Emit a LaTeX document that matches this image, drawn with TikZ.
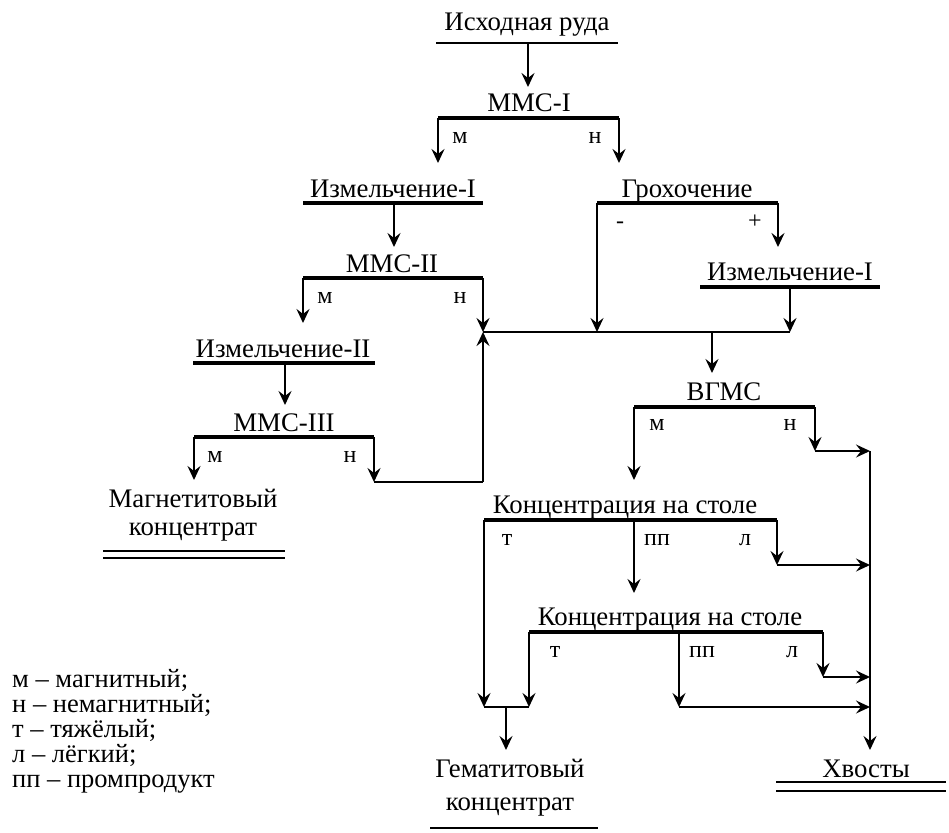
\documentclass[tikz,border=0pt]{standalone}
\usepackage{fontspec}
\setmainfont{Liberation Serif}
\usetikzlibrary{arrows.meta}
\begin{document}
\begin{tikzpicture}[x=1pt,y=-1pt,
  big/.style={font=\fontsize{26.8}{30}\selectfont, inner sep=0pt, anchor=base},
  small/.style={font=\fontsize{24}{27}\selectfont, inner sep=0pt, anchor=base},
  leg/.style={font=\fontsize{26.5}{29}\selectfont, inner sep=0pt, anchor=base west},
  bar/.style={line width=3.2pt},
  uline/.style={line width=1.5pt},
  flow/.style={line width=2.2pt, -{Stealth[length=14pt,width=13pt,inset=5pt]}},
  thinflow/.style={line width=1.5pt, -{Stealth[length=14pt,width=13pt,inset=5pt]}},
  thinline/.style={line width=1.5pt},
]
\useasboundingbox (0,0) rectangle (949,832);

% ---------- top ----------
\node[big] (ore) at (527,31) {Исходная руда};
\coordinate (oreL) at (436,43); \coordinate (oreR) at (618,43);
\draw[uline] (oreL) -- (oreR);
\coordinate (oreO) at (528,43);
\node[big] (mms1) at (529,112) {ММС-I};
\coordinate (mms1in) at (528,87);
\draw[flow] (oreO) -- (mms1in);
\coordinate (m1L) at (438,118); \coordinate (m1R) at (619,118);
\draw[bar] (m1L) -- (m1R);
\coordinate (m1Lo) at (438,163); \coordinate (m1Ro) at (619,163);
\draw[flow] (m1L) -- (m1Lo);
\draw[flow] (m1R) -- (m1Ro);
\node[small] (m1m) at (460,143) {м};
\node[small] (m1n) at (595,143) {н};

% ---------- left branch ----------
\node[big] (izm1) at (393,197) {Измельчение-I};
\coordinate (i1L) at (303,203); \coordinate (i1R) at (483,203);
\draw[bar] (i1L) -- (i1R);
\coordinate (i1o) at (394,203); \coordinate (mms2in) at (394,247);
\draw[flow] (i1o) -- (mms2in);
\node[big] (mms2) at (392,272) {ММС-II};
\coordinate (m2L) at (303,278); \coordinate (m2R) at (483,278);
\draw[bar] (m2L) -- (m2R);
\coordinate (m2Lo) at (303,323); \coordinate (col1) at (483,332);
\draw[flow] (m2L) -- (m2Lo);
\draw[flow] (m2R) -- (col1);
\node[small] (m2m) at (325,303) {м};
\node[small] (m2n) at (460,303) {н};

\node[big] (izm2) at (283,357) {Измельчение-II};
\coordinate (i2L) at (193,363); \coordinate (i2R) at (375,363);
\draw[bar] (i2L) -- (i2R);
\coordinate (i2o) at (285,363); \coordinate (mms3in) at (285,405);
\draw[flow] (i2o) -- (mms3in);
\node[big] (mms3) at (284,431) {ММС-III};
\coordinate (m3L) at (194,437); \coordinate (m3R) at (374,437);
\draw[bar] (m3L) -- (m3R);
\coordinate (m3Lo) at (194,480); \coordinate (m3Ro) at (374,482);
\draw[flow] (m3L) -- (m3Lo);
\draw[flow] (m3R) -- (m3Ro);
\node[small] (m3m) at (215,462) {м};
\node[small] (m3n) at (350,462) {н};
\coordinate (ret) at (483,482);
\draw[line width=2.2pt] (m3Ro) -- (ret);
\draw[flow] (ret) -- (col1);

\node[big] (mag1) at (193,507) {Магнетитовый};
\node[big] (mag2) at (193,535) {концентрат};
\coordinate (magA) at (103,551); \coordinate (magB) at (285,551);
\coordinate (magC) at (103,558); \coordinate (magD) at (285,558);
\draw[uline] (magA) -- (magB);
\draw[uline] (magC) -- (magD);

% ---------- right branch ----------
\node[big] (grox) at (687,197) {Грохочение};
\coordinate (gL) at (597,203); \coordinate (gR) at (778,203);
\draw[bar] (gL) -- (gR);
\coordinate (col2) at (597,332); \coordinate (gRo) at (778,247);
\draw[flow] (gL) -- (col2);
\draw[flow] (gR) -- (gRo);
\node[small] (gminus) at (620,228) {-};
\node[small] (gplus) at (755,228) {+};

\node[big] (izm1r) at (790,280) {Измельчение-I};
\coordinate (irL) at (700,287); \coordinate (irR) at (880,287);
\draw[bar] (irL) -- (irR);
\coordinate (iro) at (790,287); \coordinate (col3) at (790,332);
\draw[flow] (iro) -- (col3);

\draw[thinline] (col1) -- (col3);
\coordinate (colo) at (712,332); \coordinate (vgin) at (712,373);
\draw[flow] (colo) -- (vgin);

\node[big] (vgms) at (724,400) {ВГМС};
\coordinate (vL) at (634,407); \coordinate (vR) at (815,407);
\draw[bar] (vL) -- (vR);
\coordinate (vLo) at (634,480); \coordinate (vRo) at (815,451);
\draw[flow] (vL) -- (vLo);
\draw[flow] (vR) -- (vRo);
\node[small] (vm) at (657,430) {м};
\node[small] (vn) at (790,430) {н};
\coordinate (t1) at (870,451);
\draw[thinflow] (vRo) -- (t1);

% concentration 1
\node[big] (k1) at (625,513) {Концентрация на столе};
\coordinate (k1L) at (484,520); \coordinate (k1M) at (634,520); \coordinate (k1R) at (777,520);
\draw[bar] (k1L) -- (k1R);
\coordinate (k1Ro) at (777,565); \coordinate (t2) at (870,565);
\draw[flow] (k1R) -- (k1Ro);
\draw[thinflow] (k1Ro) -- (t2);
\coordinate (k2in) at (634,593);
\draw[flow] (k1M) -- (k2in);
\coordinate (gm1) at (484,707);
\draw[flow] (k1L) -- (gm1);
\node[small] (k1t) at (507,545) {т};
\node[small] (k1p) at (657,545) {пп};
\node[small] (k1l) at (745,545) {л};

% concentration 2
\node[big] (k2) at (670,625) {Концентрация на столе};
\coordinate (k2L) at (529,632); \coordinate (k2M) at (679,632); \coordinate (k2R) at (823,632);
\draw[bar] (k2L) -- (k2R);
\coordinate (gm2) at (529,707);
\draw[flow] (k2L) -- (gm2);
\coordinate (k2Mo) at (679,707); \coordinate (t4) at (870,707);
\draw[flow] (k2M) -- (k2Mo);
\draw[thinflow] (k2Mo) -- (t4);
\coordinate (k2Ro) at (823,677); \coordinate (t3) at (870,677);
\draw[flow] (k2R) -- (k2Ro);
\draw[thinflow] (k2Ro) -- (t3);
\node[small] (k2t) at (555,657) {т};
\node[small] (k2p) at (702,657) {пп};
\node[small] (k2l) at (792,657) {л};

\draw[thinline] (gm1) -- (gm2);
\coordinate (gmo) at (506,707); \coordinate (gmin) at (506,750);
\draw[flow] (gmo) -- (gmin);

\coordinate (tend) at (870,750);
\draw[flow] (t1) -- (tend);

\node[big] (gem1) at (510,777) {Гематитовый};
\node[big] (gem2) at (510,810) {концентрат};
\coordinate (gemA) at (430,828); \coordinate (gemB) at (598,828);
\draw[line width=2pt] (gemA) -- (gemB);

\node[big] (hv) at (866,777) {Хвосты};
\coordinate (hvA) at (776,782); \coordinate (hvB) at (946,782);
\coordinate (hvC) at (776,791); \coordinate (hvD) at (946,791);
\draw[uline] (hvA) -- (hvB);
\draw[uline] (hvC) -- (hvD);

% ---------- legend ----------
\node[leg] (lg1) at (12,687) {м – магнитный;};
\node[leg] (lg2) at (12,712) {н – немагнитный;};
\node[leg] (lg3) at (12,737) {т – тяжёлый;};
\node[leg] (lg4) at (12,762) {л – лёгкий;};
\node[leg] (lg5) at (12,787) {пп – промпродукт};
\end{tikzpicture}
\end{document}
